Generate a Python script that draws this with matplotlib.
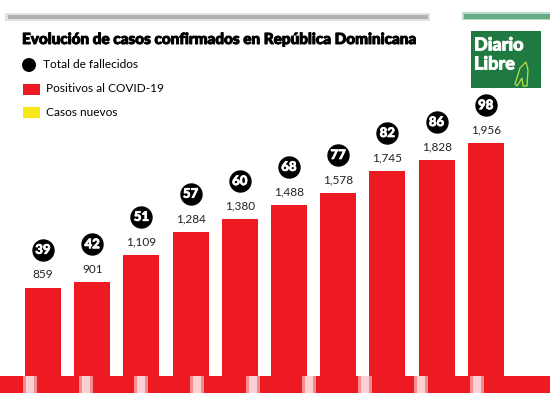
import matplotlib
matplotlib.use('Agg')
import matplotlib.pyplot as plt
import matplotlib.transforms as mtransforms
import matplotlib.patheffects as pe
from matplotlib.patches import Rectangle, Circle, Polygon

# Data
fechas = list(range(10))
fallecidos = [39, 42, 51, 57, 60, 68, 77, 82, 86, 98]
positivos = [859, 901, 1109, 1284, 1380, 1488, 1578, 1745, 1828, 1956]

ROJO = '#ee1a22'
AMARILLO = '#f7e61a'
VERDE = '#1f7a41'

W, H = 550, 393
fig = plt.figure(figsize=(W / 100, H / 100), dpi=100)
plt.rcParams['font.family'] = ['Lato', 'DejaVu Sans']

# Pixel-space background axes for decorations
bg = fig.add_axes([0, 0, 1, 1])
bg.set_xlim(0, W)
bg.set_ylim(H, 0)
bg.axis('off')

# blurred header strip (cropped from original page)
bg.add_patch(Rectangle((5, 13), 425, 8, color='#888888', alpha=0.25, lw=0))
bg.add_patch(Rectangle((8, 15), 420, 4, color='#555555', alpha=0.35, lw=0))
bg.add_patch(Rectangle((462, 12), 88, 8, color='#3a9a66', alpha=0.35, lw=0))
bg.add_patch(Rectangle((464, 14), 86, 5, color='#2e8f5a', alpha=0.6, lw=0))

# title
bg.text(22, 40, 'Evolución de casos confirmados en República Dominicana',
        fontsize=11, fontweight='black', color='black', va='center', ha='left',
        path_effects=[pe.withStroke(linewidth=0.7, foreground='black')])

# legend
bg.add_patch(Circle((29, 65), 7, color='black', lw=0))
bg.text(43, 65, 'Total de fallecidos', fontsize=8.6, va='center')
bg.add_patch(Rectangle((23, 84), 17, 11, color=ROJO, lw=0))
bg.text(46, 89, 'Positivos al COVID-19', fontsize=8.6, va='center')
bg.add_patch(Rectangle((23, 107), 17, 11, color=AMARILLO, lw=0))
bg.text(46, 112, 'Casos nuevos', fontsize=8.6, va='center')

# logo
bg.add_patch(Rectangle((471, 31), 70, 57, color=VERDE, lw=0))
bg.text(474, 45, 'Diario', fontsize=13, fontweight='black', color='white', va='center',
        path_effects=[pe.withStroke(linewidth=0.6, foreground='white')])
bg.text(474, 64, 'Libre', fontsize=13, fontweight='black', color='white', va='center',
        path_effects=[pe.withStroke(linewidth=0.6, foreground='white')])
bg.add_patch(Polygon([(520, 68), (526, 62), (528, 70), (527, 86), (523, 86),
                      (522, 78), (517, 86), (515, 84)],
                     closed=True, fill=False, ec='#b6e04a', lw=0.9))

# bottom red strip with blurry gaps
bg.add_patch(Rectangle((0, 376), W, 17, color=ROJO, lw=0))
for gx in [30, 86, 141, 197, 253, 309, 365, 421, 477]:
    bg.add_patch(Rectangle((gx - 7, 376), 14, 17, color='white', alpha=0.5, lw=0))
    bg.add_patch(Rectangle((gx - 4, 376), 8, 17, color='white', alpha=0.6, lw=0))

# Bars axes: pixel scale 0.1318 px per case, baseline at y=401 px
scale = 0.1318
base_px = 401
bottom_px = 376
ax = fig.add_axes([0, (H - bottom_px) / H, 1, bottom_px / H])
ax.set_ylim((base_px - bottom_px) / scale, base_px / scale)
ax.set_xlim((0 - 43) / 49.2, (W - 43) / 49.2)
ax.axis('off')
ax.patch.set_alpha(0)

ax.bar(fechas, positivos, width=0.73, color=ROJO, bottom=0)

for x, v in zip(fechas, positivos):
    ax.annotate(f'{v:,}', (x, v), xytext=(0, 9.4), textcoords='offset points',
                ha='center', va='center', fontsize=8.5, color='#222222')

circ_tr = mtransforms.offset_copy(ax.transData, fig=fig, y=38 * 0.72, units='points')
ax.scatter(fechas, positivos, s=(21 * 0.72) ** 2, color='black', transform=circ_tr,
           zorder=3, clip_on=False)
for x, v, d in zip(fechas, positivos, fallecidos):
    ax.text(x, v, str(d), transform=circ_tr, ha='center', va='center',
            fontsize=9.5, fontweight='black', color='white', zorder=4,
            path_effects=[pe.withStroke(linewidth=0.5, foreground='white')])

fig.savefig('out.png', dpi=100)
